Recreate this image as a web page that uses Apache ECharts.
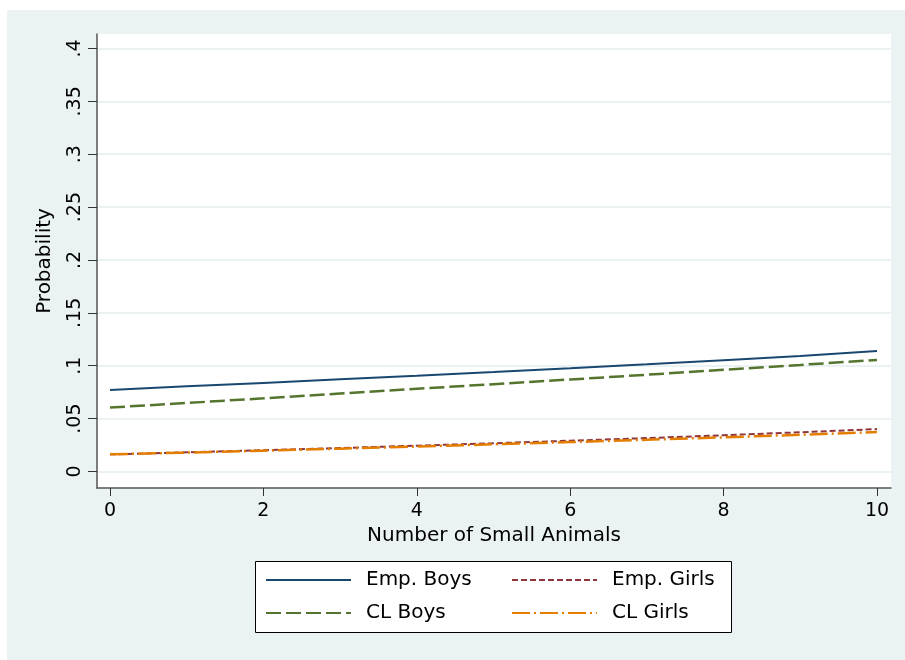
<!DOCTYPE html>
<html>
<head>
<meta charset="utf-8">
<script src="https://cdn.jsdelivr.net/npm/echarts@6/dist/echarts.min.js"></script>
<style>
html,body{margin:0;padding:0;background:#ffffff;}
#chart{width:905px;height:660px;}
</style>
</head>
<body>
<div id="chart"></div>
<script>
// ---- data ----
var xValues = [0, 1, 2, 3, 4, 5, 6, 7, 8, 9, 10];
var empBoys  = [0.0770, 0.0805, 0.0838, 0.0872, 0.0906, 0.0941, 0.0977, 0.1014, 0.1052, 0.1092, 0.1140];
var empGirls = [0.0162, 0.0181, 0.0201, 0.0222, 0.0244, 0.0267, 0.0291, 0.0316, 0.0343, 0.0371, 0.0401];
var clBoys   = [0.0605, 0.0648, 0.0692, 0.0737, 0.0782, 0.0826, 0.0870, 0.0915, 0.0962, 0.1008, 0.1055];
var clGirls  = [0.0162, 0.0179, 0.0197, 0.0216, 0.0236, 0.0257, 0.0278, 0.0300, 0.0323, 0.0347, 0.0373];
var seriesNames = ['Emp. Boys', 'Emp. Girls', 'CL Boys', 'CL Girls'];
var xTicks = [0, 2, 4, 6, 8, 10];
var yTicks = [0, 0.05, 0.1, 0.15, 0.2, 0.25, 0.3, 0.35, 0.4];
var xTitle = 'Number of Small Animals';
var yTitle = 'Probability';

function pairs(ys) { return xValues.map(function (x, i) { return [x, ys[i]]; }); }
function yFmt(v) {
  var r = Math.round(v * 1000) / 1000;
  if (r === 0) return '0';
  return String(r).replace(/^0/, '');
}

var FONT = 'DejaVu Sans';
var chart = echarts.init(document.getElementById('chart'), null, {renderer: 'canvas'});
var option = {
  backgroundColor: '#ffffff',
  animation: false,
  graphic: [
    {type: 'rect', z: -10, shape: {x: 7, y: 10, width: 898, height: 650}, style: {fill: '#eaf2f3'}},
    {type: 'rect', z: 1, shape: {x: 255.5, y: 561.5, width: 476, height: 71}, style: {fill: '#ffffff', stroke: '#000000', lineWidth: 1}}
  ],
  grid: {
    left: 97, top: 34, right: 14, bottom: 172,
    show: true, backgroundColor: '#ffffff', borderWidth: 0
  },
  legend: {
    z: 5,
    left: 265, top: 570, width: 480,
    padding: 0,
    itemGap: 13,
    itemWidth: 85, itemHeight: 14,
    data: seriesNames,
    itemStyle: {opacity: 0},
    textStyle: {fontFamily: FONT, fontSize: 20, color: '#000000', width: 132, lineHeight: 20, padding: [0, 0, 0, 10]}
  },
  xAxis: {
    type: 'value',
    min: -0.1695, max: 10.183,
    name: xTitle, nameLocation: 'middle', nameGap: 37,
    nameTextStyle: {fontFamily: FONT, fontSize: 20, color: '#000000'},
    axisLine: {show: true, onZero: false, lineStyle: {color: '#555555', width: 1.5}},
    axisTick: {show: true, length: 8, customValues: xTicks, lineStyle: {color: '#333333', width: 1}},
    axisLabel: {fontFamily: FONT, fontSize: 19, color: '#000000', margin: 14, customValues: xTicks},
    splitLine: {show: false}
  },
  yAxis: {
    type: 'value',
    min: -0.0156, max: 0.4137,
    name: yTitle, nameLocation: 'middle', nameGap: 42, nameRotate: 90,
    nameTextStyle: {fontFamily: FONT, fontSize: 20, color: '#000000'},
    axisLine: {show: true, onZero: false, lineStyle: {color: '#555555', width: 1.5}},
    axisTick: {show: true, length: 9, customValues: yTicks, lineStyle: {color: '#333333', width: 1}},
    axisLabel: {fontFamily: FONT, fontSize: 19, color: '#000000', margin: 12, rotate: 90, customValues: yTicks, formatter: yFmt},
    splitLine: {show: true, lineStyle: {color: '#eaf2f3', width: 2}}
  },
  series: [
    {name: seriesNames[0], type: 'line', data: pairs(empBoys), symbol: 'none', color: '#1a476f',
      lineStyle: {color: '#1a476f', width: 2, type: 'solid'}},
    {name: seriesNames[1], type: 'line', data: pairs(empGirls), symbol: 'none', color: '#90353b',
      lineStyle: {color: '#90353b', width: 2, type: [6, 3]}},
    {name: seriesNames[2], type: 'line', data: pairs(clBoys), symbol: 'none', color: '#55752f',
      lineStyle: {color: '#55752f', width: 2.5, type: [15, 5]}},
    {name: seriesNames[3], type: 'line', data: pairs(clGirls), symbol: 'none', color: '#e37e00',
      lineStyle: {color: '#e37e00', width: 2.5, type: [18, 4, 2, 4]}}
  ]
};
chart.setOption(option);
</script>
</body>
</html>
